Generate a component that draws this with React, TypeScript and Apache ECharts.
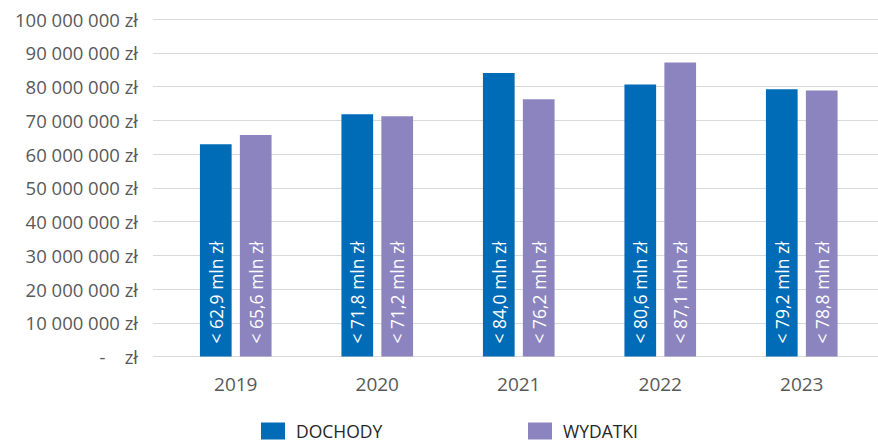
import React, { useEffect, useRef } from "react";
import * as echarts from "echarts";

const years = ["2019", "2020", "2021", "2022", "2023"];
const dochody = [62.9, 71.8, 84.0, 80.6, 79.2];
const wydatki = [65.6, 71.2, 76.2, 87.1, 78.8];
const seriesNames = ["DOCHODY", "WYDATKI"];
const yMax = 100000000;
const yStep = 10000000;

const fmtAxis = (v: number) => {
  if (v === 0) return "-\u00a0\u00a0\u00a0\u00a0zł";
  const s = String(Math.round(v)).replace(/\B(?=(\d{3})+(?!\d))/g, "\u00a0");
  return s + "\u00a0zł";
};
const fmtLabel = (mln: number) => "<\u00a0" + mln.toFixed(1).replace(".", ",") + "\u00a0mln\u00a0zł";

export default function App() {
  const ref = useRef<HTMLDivElement>(null);
  useEffect(() => {
    if (!ref.current) return;
    const chart = echarts.init(ref.current, null, { renderer: "svg" });
    const font = "'Open Sans', sans-serif";
    const label = {
      show: true,
      position: "insideBottom" as const,
      rotate: 90,
      align: "left" as const,
      verticalAlign: "middle" as const,
      distance: 13,
      color: "#ffffff",
      fontSize: 17.5,
      fontFamily: font,
    };
    const legendText = {
      color: "#262626",
      fontSize: 17.5,
      lineHeight: 20,
      fontFamily: font,
      padding: [0, 0, 0, 6],
    };
    chart.setOption({
      animation: false,
      textStyle: { fontFamily: font },
      grid: [
        { left: 153, right: 0, top: 19, bottom: 91.5 },
        { left: 165, right: 5.5, top: 19, bottom: 91.5 },
      ],
      legend: [
        {
          data: [seriesNames[0]],
          left: 261,
          top: 421,
          padding: 0,
          itemWidth: 24,
          itemHeight: 17,
          icon: "rect",
          textStyle: legendText,
        },
        {
          data: [seriesNames[1]],
          left: 528,
          top: 421,
          padding: 0,
          itemWidth: 24,
          itemHeight: 17,
          icon: "rect",
          textStyle: legendText,
        },
      ],
      xAxis: [
        { type: "category", gridIndex: 0, data: years, show: false },
        {
          type: "category",
          gridIndex: 1,
          data: years,
          axisLine: { show: false },
          axisTick: { show: false },
          axisLabel: { color: "#595959", fontSize: 19, margin: 18, fontFamily: font },
        },
      ],
      yAxis: [
        {
          type: "value",
          gridIndex: 0,
          min: 0,
          max: yMax,
          interval: yStep,
          axisLine: { show: false },
          axisTick: { show: false },
          splitLine: { lineStyle: { color: "#D9D9D9", width: 1 } },
          axisLabel: { color: "#595959", fontSize: 18.5, margin: 15, formatter: fmtAxis, fontFamily: font },
        },
        {
          type: "value",
          gridIndex: 1,
          min: 0,
          max: yMax,
          interval: yStep,
          show: false,
          splitLine: { show: false },
        },
      ],
      series: [
        {
          name: seriesNames[0],
          type: "bar",
          xAxisIndex: 1,
          yAxisIndex: 1,
          data: dochody.map((v) => v * 1000000),
          barWidth: 31.7,
          barGap: "26%",
          itemStyle: { color: "#006BB6" },
          label: { ...label, formatter: (p: any) => fmtLabel(dochody[p.dataIndex]) },
        },
        {
          name: seriesNames[1],
          type: "bar",
          xAxisIndex: 1,
          yAxisIndex: 1,
          data: wydatki.map((v) => v * 1000000),
          barWidth: 31.7,
          barGap: "26%",
          itemStyle: { color: "#8C84BF" },
          label: { ...label, formatter: (p: any) => fmtLabel(wydatki[p.dataIndex]) },
        },
      ],
    });
    return () => chart.dispose();
  }, []);
  return (
    <div
      ref={ref}
      style={{ position: "fixed", left: 0, top: 0, width: 878, height: 448, background: "#ffffff" }}
    />
  );
}
